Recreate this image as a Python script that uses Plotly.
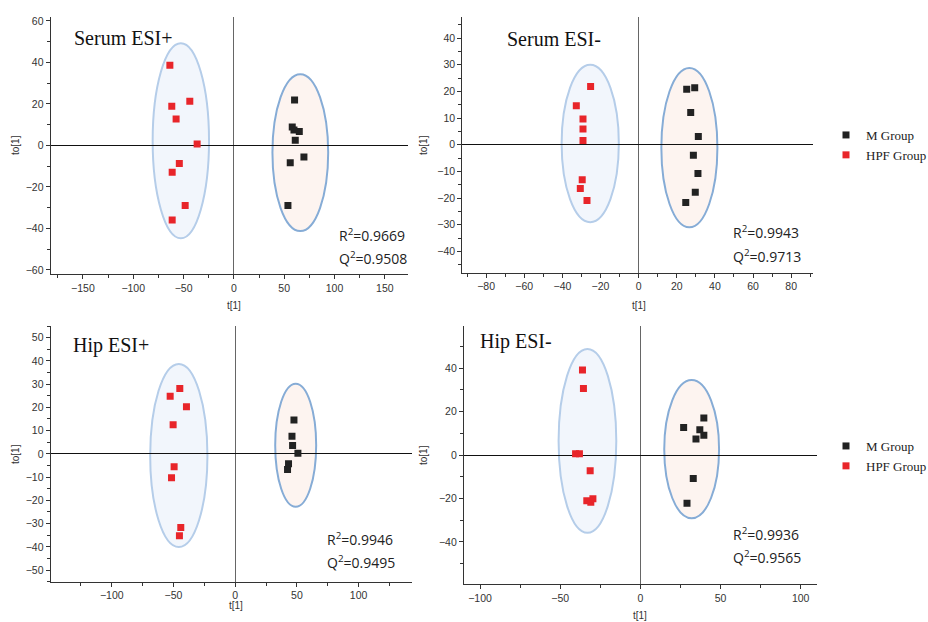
import plotly.graph_objects as go

W, H = 928, 622

# ---------------- data ----------------
panel_titles = ["Serum ESI+", "Serum ESI-", "Hip ESI+", "Hip ESI-"]
r2_values = ["0.9669", "0.9943", "0.9946", "0.9936"]
q2_values = ["0.9508", "0.9713", "0.9495", "0.9565"]
x_title_text = "t[1]"
y_title_text = "to[1]"

# Serum ESI+
s_pos_m_x = [60.3, 58.0, 59.7, 65.0, 61.0, 69.6, 56.0, 53.7]
s_pos_m_y = [21.8, 8.8, 7.4, 6.7, 2.5, -5.6, -8.4, -29.0]
s_pos_h_x = [-63.6, -61.7, -43.8, -57.4, -36.5, -54.2, -61.3, -48.4, -61.3]
s_pos_h_y = [38.6, 18.9, 21.3, 12.7, 0.6, -8.8, -13.0, -29.0, -36.0]

# Serum ESI-
s_neg_m_x = [25.2, 29.4, 27.3, 31.3, 28.7, 31.1, 29.7, 24.7]
s_neg_m_y = [20.8, 21.4, 12.1, 3.1, -4.0, -10.8, -17.8, -21.7]
s_neg_h_x = [-25.2, -32.7, -29.2, -29.2, -29.2, -29.6, -30.6, -27.1]
s_neg_h_y = [21.8, 14.6, 9.6, 5.9, 1.6, -13.1, -16.4, -20.9]

# Hip ESI+
h_pos_m_x = [47.6, 46.0, 46.5, 50.8, 43.2, 42.4]
h_pos_m_y = [14.6, 7.6, 3.6, 0.3, -4.3, -6.7]
h_pos_h_x = [-44.9, -52.7, -39.5, -50.3, -49.5, -51.6, -44.1, -45.2]
h_pos_h_y = [28.1, 24.8, 20.3, 12.5, -5.5, -10.3, -31.7, -35.2]

# Hip ESI-
h_neg_m_x = [39.6, 27.0, 37.1, 39.6, 34.7, 33.0, 29.1]
h_neg_m_y = [17.0, 12.6, 11.6, 9.1, 7.4, -10.8, -22.2]
h_neg_h_x = [-36.1, -35.5, -40.4, -38.0, -31.3, -33.4, -30.9, -29.6]
h_neg_h_y = [39.1, 30.6, 0.6, 0.6, -7.3, -21.0, -21.8, -20.1]

# confidence ellipses: (center x, center y, semi-axis x, semi-axis y)
ell_hpf = [(-52.7, 2.2, 28.0, 47.0), (-25.4, 0.45, 15.0, 29.5),
           (-45.7, -0.7, 23.2, 39.4), (-33.0, 6.5, 18.0, 42.3)]
ell_m = [(66.0, -3.5, 27.7, 37.8), (26.6, -1.1, 14.7, 29.9),
         (49.0, 3.7, 16.6, 26.5), (32.0, 2.7, 17.1, 31.8)]

# axis settings per panel
x_ranges = [[-182, 173], [-92.5, 91.6], [-149.5, 143], [-110, 110]]
y_ranges = [[-62, 62], [-48, 48], [-55, 55], [-59.5, 59.5]]
x_dticks = [50, 20, 50, 50]
y_dticks = [20, 10, 10, 20]

m_x = [s_pos_m_x, s_neg_m_x, h_pos_m_x, h_neg_m_x]
m_y = [s_pos_m_y, s_neg_m_y, h_pos_m_y, h_neg_m_y]
h_x = [s_pos_h_x, s_neg_h_x, h_pos_h_x, h_neg_h_x]
h_y = [s_pos_h_y, s_neg_h_y, h_pos_h_y, h_neg_h_y]

# ---------------- layout geometry (pixels) ----------------
boxes = [(50.7, 408.0, 16.7, 274.0), (462.3, 813.3, 16.7, 272.7),
         (50.7, 411.7, 326.0, 581.7), (464.0, 816.7, 325.7, 584.3)]
title_pos = [(72, 38), (505, 39), (71, 345), (478, 342)]
rq_pos = [(337, 235, 258), (731, 232, 256), (325, 539, 562), (731, 534, 557)]
x_title_pos = [(234, 305), (639, 305), (236, 605), (640, 615)]
y_title_pos = [(15, 145), (423, 145), (15, 454), (423, 455)]

RED = "#e8252a"
BLACK = "#222222"

fig = go.Figure()
layout = dict(width=W, height=H, margin=dict(l=0, r=0, t=0, b=0, autoexpand=False),
              paper_bgcolor="white", plot_bgcolor="white",
              showlegend=True, shapes=[], annotations=[])

tick_font = dict(family="Liberation Sans, Arial, sans-serif", size=10.5, color="#333333")
title_font = dict(family="Liberation Sans, Arial, sans-serif", size=10, color="#333333")


def ann(text, px, py, font, **kw):
    d = dict(text=text, xref="paper", yref="paper", x=px / W, y=1 - py / H,
             yanchor="middle", showarrow=False, font=font)
    d.update(kw)
    return d


for i in range(4):
    n = "" if i == 0 else str(i + 1)
    n2 = str(i + 5)
    xa, ya = "x" + n, "y" + n
    x0, x1, y0, y1 = boxes[i]
    show = i in (1, 3)
    lg = "legend" if i == 1 else "legend2"
    fig.add_trace(go.Scatter(x=m_x[i], y=m_y[i], mode="markers", name="M Group",
                             marker=dict(symbol="square", size=7, color=BLACK),
                             xaxis=xa, yaxis=ya, showlegend=show, legend=lg))
    fig.add_trace(go.Scatter(x=h_x[i], y=h_y[i], mode="markers", name="HPF Group",
                             marker=dict(symbol="square", size=7, color=RED),
                             xaxis=xa, yaxis=ya, showlegend=show, legend=lg))
    common = dict(showline=True, linecolor="#333333", linewidth=1.2,
                  ticks="outside", ticklen=4, tickcolor="#333333", tickwidth=1,
                  showgrid=False, tickfont=tick_font, automargin=False)
    xdom = [x0 / W, x1 / W]
    ydom = [1 - y1 / H, 1 - y0 / H]
    layout["xaxis" + n] = dict(common, domain=xdom, range=x_ranges[i],
                               anchor=ya, dtick=x_dticks[i], tick0=0,
                               zeroline=True, zerolinecolor="#666666", zerolinewidth=1,
                               minor=dict(ticks="outside", ticklen=3, dtick=x_dticks[i] / 2,
                                          tickcolor="#333333"))
    layout["yaxis" + n] = dict(common, domain=ydom, range=y_ranges[i],
                               anchor=xa, dtick=y_dticks[i], tick0=0,
                               zeroline=True, zerolinecolor="#111111", zerolinewidth=1.2,
                               minor=dict(ticks="outside", ticklen=3, dtick=y_dticks[i] / 2,
                                          tickcolor="#333333"))
    # overlay axes giving the inward half of the crossing ticks
    inner = dict(showline=False, showgrid=False, zeroline=False, showticklabels=False,
                 ticks="inside", ticklen=3, tickcolor="#333333", tickwidth=1, automargin=False)
    layout["xaxis" + n2] = dict(inner, overlaying=xa, anchor=ya, range=x_ranges[i],
                                dtick=x_dticks[i], tick0=0, domain=xdom,
                                minor=dict(ticks="inside", ticklen=2, dtick=x_dticks[i] / 2,
                                           tickcolor="#333333"))
    layout["yaxis" + n2] = dict(inner, overlaying=ya, anchor=xa, range=y_ranges[i],
                                dtick=y_dticks[i], tick0=0, domain=ydom,
                                minor=dict(ticks="inside", ticklen=2, dtick=y_dticks[i] / 2,
                                           tickcolor="#333333"))
    # ellipses
    cx, cy, ax_, ay_ = ell_hpf[i]
    layout["shapes"].append(dict(type="circle", xref=xa, yref=ya, layer="below",
                                 x0=cx - ax_, x1=cx + ax_, y0=cy - ay_, y1=cy + ay_,
                                 fillcolor="#f2f6fc", line=dict(color="#b5cde9", width=2)))
    cx, cy, ax_, ay_ = ell_m[i]
    layout["shapes"].append(dict(type="circle", xref=xa, yref=ya, layer="below",
                                 x0=cx - ax_, x1=cx + ax_, y0=cy - ay_, y1=cy + ay_,
                                 fillcolor="#fdf4f0", line=dict(color="#86acd6", width=2)))
    # axis titles
    tx, ty = x_title_pos[i]
    layout["annotations"].append(ann(x_title_text, tx, ty, title_font, xanchor="center"))
    tx, ty = y_title_pos[i]
    layout["annotations"].append(ann(y_title_text, tx, ty, title_font, xanchor="center",
                                     textangle=-90))
    # panel titles
    tx, ty = title_pos[i]
    layout["annotations"].append(ann(panel_titles[i], tx, ty,
                                     dict(family="Liberation Serif, Times New Roman, serif",
                                          size=20, color="#111111"), xanchor="left"))
    rx, ry, qy = rq_pos[i]
    rq_font = dict(family="Open Sans, sans-serif", size=14, color="#222")
    layout["annotations"].append(ann("R<sup>2</sup>=" + r2_values[i], rx, ry, rq_font, xanchor="left"))
    layout["annotations"].append(ann("Q<sup>2</sup>=" + q2_values[i], rx, qy, rq_font, xanchor="left"))

leg_font = dict(family="Liberation Serif, Times New Roman, serif", size=13, color="#222")
layout["legend"] = dict(x=826 / W, y=1 - 120 / H, xanchor="left", yanchor="top",
                        font=leg_font, bgcolor="rgba(0,0,0,0)", itemwidth=30, tracegroupgap=0)
layout["legend2"] = dict(x=826 / W, y=1 - 431 / H, xanchor="left", yanchor="top",
                         font=leg_font, bgcolor="rgba(0,0,0,0)", itemwidth=30, tracegroupgap=0)

fig.update_layout(**layout)
fig.write_html("out.html", config={"displayModeBar": False},
               post_script="document.body.style.margin='0px';")
